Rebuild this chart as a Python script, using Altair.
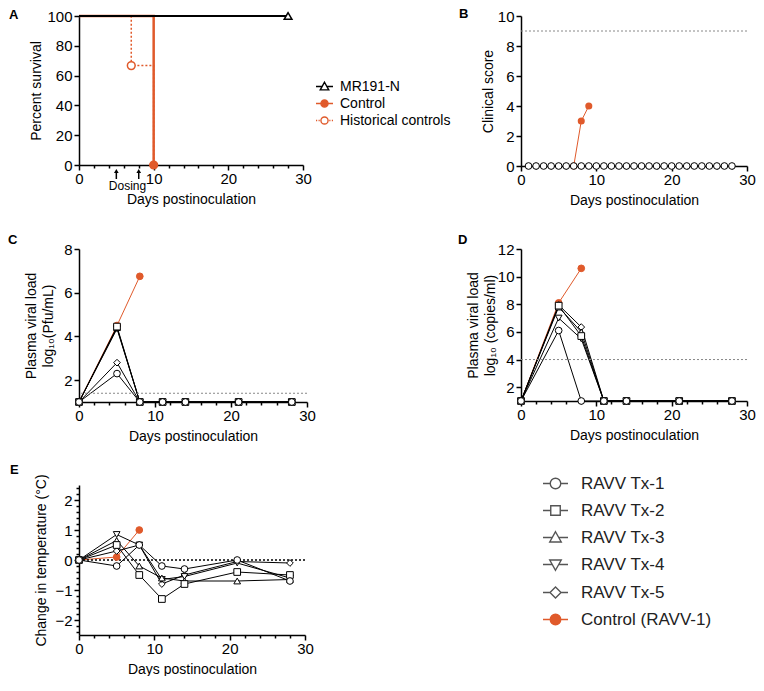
import altair as alt
import pandas as pd

ORANGE = "#E05A2B"
FONT = "Liberation Sans"

# ---------------- data ----------------
# Panel A: survival
a_series = ["MR191-N", "Control", "Historical controls"]
a_mr_days = [0, 28]
a_mr_pct = [100, 100]
a_ctrl_days = [0, 10]
a_ctrl_pct = [100, 0]
a_hist_days = [0, 7, 10]
a_hist_pct = [100, 66.7, 0]
a_mark_series = ["Historical controls", "MR191-N", "Control"]
a_mark_days = [7, 28, 10]
a_mark_pct = [66.7, 100, 0]
dosing_days = [5, 8]

# Panel B: clinical score
b_tx_days = [1, 2, 3, 4, 5, 6, 7, 8, 9, 10, 11, 12, 13, 14, 15, 16, 17, 18, 19, 20,
             21, 22, 23, 24, 25, 26, 27, 28]
b_tx_score = [0, 0, 0, 0, 0, 0, 0, 0, 0, 0, 0, 0, 0, 0, 0, 0, 0, 0, 0, 0,
              0, 0, 0, 0, 0, 0, 0, 0]
b_ctrl_days = [7, 8, 9]
b_ctrl_score = [0, 3, 4]
b_threshold = [9]

# Panels C-E: treated animals and control
tx_names = ["RAVV Tx-1", "RAVV Tx-2", "RAVV Tx-3", "RAVV Tx-4", "RAVV Tx-5"]
ctrl_name = "Control (RAVV-1)"
sample_days = [0, 5, 8, 11, 14, 21, 28]
ctrl_days = [0, 5, 8]

c_tx = {
    "RAVV Tx-1": [1, 2.3, 1, 1, 1, 1, 1],
    "RAVV Tx-2": [1, 4.45, 1, 1, 1, 1, 1],
    "RAVV Tx-3": [1, 4.4, 1, 1, 1, 1, 1],
    "RAVV Tx-4": [1, 4.35, 1, 1, 1, 1, 1],
    "RAVV Tx-5": [1, 2.8, 1, 1, 1, 1, 1],
}
c_ctrl = [1, 4.5, 6.75]
c_lod = [1.4]

d_tx = {
    "RAVV Tx-1": [1, 6.1, 1, 1, 1, 1, 1],
    "RAVV Tx-2": [1, 7.9, 5.7, 1, 1, 1, 1],
    "RAVV Tx-3": [1, 7.8, 6.0, 1, 1, 1, 1],
    "RAVV Tx-4": [1, 7.0, 5.5, 1, 1, 1, 1],
    "RAVV Tx-5": [1, 7.95, 6.35, 1, 1, 1, 1],
}
d_ctrl = [1, 8.1, 10.6]
d_lod = [4]

e_tx = {
    "RAVV Tx-1": [0, -0.2, 0.5, -0.2, -0.3, 0.0, -0.7],
    "RAVV Tx-2": [0, 0.5, -0.5, -1.3, -0.8, -0.4, -0.5],
    "RAVV Tx-3": [0, 0.65, -0.2, -0.6, -0.7, -0.7, -0.65],
    "RAVV Tx-4": [0, 0.85, 0.5, -0.65, -0.55, -0.1, -0.6],
    "RAVV Tx-5": [0, 0.3, 0.5, -0.8, -0.5, -0.05, -0.1],
}
e_ctrl = [0, 0.1, 1.0]
e_zero = [0]

# axis ticks
x_major = [0, 10, 20, 30]
x_minor = [2, 4, 6, 8, 12, 14, 16, 18, 22, 24, 26, 28]
a_y_ticks = [0, 20, 40, 60, 80, 100]
b_y_ticks = [0, 2, 4, 6, 8, 10]
c_y_ticks = [2, 4, 6, 8]
d_y_ticks = [2, 4, 6, 8, 10, 12]
e_y_ticks = [-2, -1, 0, 1, 2]
e_y_minor = [-2.4, -2.2, -1.8, -1.6, -1.4, -1.2, -0.8, -0.6, -0.4, -0.2,
             0.2, 0.4, 0.6, 0.8, 1.2, 1.4, 1.6, 1.8, 2.2, 2.4]

# ---------------- helpers ----------------
all_names = tx_names + [ctrl_name]
shape_range = ["circle", "square", "triangle-up", "triangle-down", "diamond", "circle"]
fill_range = ["white"] * 5 + [ORANGE]
stroke_range = ["black"] * 5 + [ORANGE]

XSCALE = alt.Scale(domain=[0, 30], nice=False, zero=False)


def x_enc(field="day:Q"):
    return alt.X(field, scale=XSCALE,
                 axis=alt.Axis(values=x_major, title="Days postinoculation", orient="bottom",
                               tickSize=5, labelPadding=1, titlePadding=6,
                               labelFlush=False, labelOverlap=False))


def y_enc(field, domain, ticks, title, tpad):
    return alt.Y(field, scale=alt.Scale(domain=domain, nice=False, zero=False),
                 axis=alt.Axis(values=ticks, title=title, orient="left", tickSize=5,
                               labelPadding=2, titlePadding=tpad, titleLineHeight=17,
                               labelOverlap=False, labelFlush=False))


def minor_layer(df, yfield, ydomain, y_minor=None):
    if y_minor:
        yax = alt.Axis(values=y_minor, labels=False, domain=False, tickSize=3,
                       title=None, orient="left")
    else:
        yax = None
    return alt.Chart(df).mark_point(opacity=0, size=1).encode(
        x=alt.X("day:Q", scale=XSCALE,
                axis=alt.Axis(values=x_minor, labels=False, domain=False, tickSize=3,
                              title=None, orient="bottom")),
        y=alt.Y(yfield, scale=alt.Scale(domain=ydomain, nice=False, zero=False), axis=yax),
    )


def letter_layer(letter, dx, dy):
    return alt.Chart(pd.DataFrame({"letter": [letter]})).mark_text(
        align="left", baseline="alphabetic", font=FONT, fontSize=13, fontWeight="bold",
        color="black").encode(text="letter:N", x=alt.value(dx), y=alt.value(dy))


def series_df(tx, ctrl_vals):
    rows = []
    for d, v in zip(ctrl_days, ctrl_vals):
        rows.append({"series": ctrl_name, "day": d, "v": v})
    for name in reversed(tx_names):
        for d, v in zip(sample_days, tx[name]):
            rows.append({"series": name, "day": d, "v": v})
    return pd.DataFrame(rows)


def series_layers(df, y):
    lines = alt.Chart(df).mark_line(strokeWidth=1).encode(
        x=x_enc(), y=y,
        stroke=alt.Stroke("series:N", scale=alt.Scale(domain=all_names, range=stroke_range),
                          legend=None),
        detail="series:N",
    )
    pts = alt.Chart(df).mark_point(filled=True, opacity=1, size=45, strokeWidth=1).encode(
        x=x_enc(), y=y,
        shape=alt.Shape("series:N", scale=alt.Scale(domain=all_names, range=shape_range),
                        legend=None),
        fill=alt.Fill("series:N", scale=alt.Scale(domain=all_names, range=fill_range),
                      legend=None),
        stroke=alt.Stroke("series:N", scale=alt.Scale(domain=all_names, range=stroke_range),
                          legend=None),
    )
    return lines, pts


def leg_path(marker, r, dotted=False):
    if dotted:
        line = "M-1,0H-0.86M-0.7,0H-0.56M0.56,0H0.7M0.86,0H1"
    else:
        line = f"M-1,0H-{r}M{r},0H1"
    return line + marker


def circ(r):
    return f"M{r},0A{r},{r} 0 1,1 -{r},0A{r},{r} 0 1,1 {r},0Z"


def legend_layer(names, paths, fills, strokes, legend):
    return alt.Chart(pd.DataFrame({"series": names})).mark_point(
        filled=False, opacity=1, strokeWidth=1.4).transform_filter("false").encode(
        shape=alt.Shape("series:N", scale=alt.Scale(domain=names, range=paths), legend=legend),
        fill=alt.Fill("series:N", scale=alt.Scale(domain=names, range=fills), legend=None),
        stroke=alt.Stroke("series:N", scale=alt.Scale(domain=names, range=strokes), legend=None),
    )


# ---------------- Panel A ----------------
H_A = 149
a_hist_df = pd.DataFrame({"day": a_hist_days, "pct": a_hist_pct})
a_ctrl_df = pd.DataFrame({"day": a_ctrl_days, "pct": a_ctrl_pct})
a_mr_df = pd.DataFrame({"day": a_mr_days, "pct": a_mr_pct})
a_pts_df = pd.DataFrame({"series": a_mark_series, "day": a_mark_days, "pct": a_mark_pct})
dose_df = pd.DataFrame({"day": dosing_days})

yA = y_enc("pct:Q", [0, 100], a_y_ticks, "Percent survival", 3)

a_fill = ["white", ORANGE, "white"]
a_stroke = ["black", ORANGE, ORANGE]
a_hist = alt.Chart(a_hist_df).mark_line(interpolate="step-after", color=ORANGE, strokeWidth=1.5,
                                        strokeDash=[2, 2]).encode(x=x_enc(), y=yA)
a_ctrl = alt.Chart(a_ctrl_df).mark_line(interpolate="step-after", color=ORANGE,
                                        strokeWidth=2.5).encode(x=x_enc(), y=yA)
a_mr = alt.Chart(a_mr_df).mark_line(color="black", strokeWidth=2).encode(x=x_enc(), y=yA)
a_pts = alt.Chart(a_pts_df).mark_point(filled=True, opacity=1, size=60, strokeWidth=1.5).encode(
    x=x_enc(), y=yA,
    shape=alt.Shape("series:N", scale=alt.Scale(domain=a_series,
                                                range=["triangle-up", "circle", "circle"]),
                    legend=None),
    fill=alt.Fill("series:N", scale=alt.Scale(domain=a_series, range=a_fill), legend=None),
    stroke=alt.Stroke("series:N", scale=alt.Scale(domain=a_series, range=a_stroke), legend=None),
)
a_leg_paths = [
    leg_path("M0,-0.5L0.5,0.4H-0.5Z", 0.28),
    leg_path(circ(0.42), 0.42),
    leg_path(circ(0.42), 0.42, dotted=True),
]
a_legend = legend_layer(
    a_series, a_leg_paths, a_fill, a_stroke,
    alt.Legend(title=None, orient="none", legendX=236, legendY=61, padding=0,
               symbolSize=289, labelFontSize=14, labelFont=FONT, labelColor="black",
               labelOffset=6, rowPadding=0, labelLimit=300, symbolStrokeWidth=1.4,
               symbolFillColor={"expr": "datum.value === 'Control' ? '" + ORANGE + "' : 'white'"},
               symbolStrokeColor={"expr": "datum.value === 'MR191-N' ? 'black' : '" + ORANGE + "'"}))
a_arrow = alt.Chart(dose_df).mark_rule(color="black", strokeWidth=1.5).encode(
    x=x_enc(), y=alt.value(H_A + 7), y2=alt.value(H_A + 14))
a_head = alt.Chart(dose_df).mark_point(shape="triangle-up", filled=True, color="black",
                                       opacity=1, size=22).encode(x=x_enc(), y=alt.value(H_A + 6))
a_dtext = alt.Chart(dose_df).mark_text(font=FONT, fontSize=12, color="black").encode(
    x=x_enc("mean(day):Q"), y=alt.value(H_A + 21), text=alt.value("Dosing"))

panelA = alt.layer(
    alt.layer(a_hist, a_ctrl, a_mr, a_pts, a_arrow, a_head, a_dtext, a_legend,
              letter_layer("A", -70, 3)).resolve_scale(shape="independent"),
    minor_layer(a_mr_df, "pct:Q", [0, 100]),
).resolve_axis(x="independent", y="independent").properties(width=224, height=H_A)

# ---------------- Panel B ----------------
b_tx_df = pd.DataFrame({"day": b_tx_days, "score": b_tx_score})
b_ctrl_df = pd.DataFrame({"day": b_ctrl_days, "score": b_ctrl_score})
b_thr_df = pd.DataFrame({"score": b_threshold})
yB = y_enc("score:Q", [0, 10], b_y_ticks, "Clinical score", 2)

b_cl = alt.Chart(b_ctrl_df).mark_line(color=ORANGE, strokeWidth=1).encode(x=x_enc(), y=yB)
b_thr = alt.Chart(b_thr_df).mark_rule(color="#888", strokeWidth=1, strokeDash=[2, 2]).encode(y=yB)
b_cp = alt.Chart(b_ctrl_df).mark_point(filled=True, color=ORANGE, opacity=1, size=50).encode(
    x=x_enc(), y=yB)
b_tp = alt.Chart(b_tx_df).mark_point(filled=True, fill="white", stroke="black", strokeWidth=1,
                                     opacity=1, size=45).encode(x=x_enc(), y=yB)
panelB = alt.layer(
    alt.layer(b_cl, b_thr, b_cp, b_tp, letter_layer("B", -62, 2)),
    minor_layer(b_tx_df, "score:Q", [0, 10]),
).resolve_axis(x="independent", y="independent").properties(width=226, height=150)

# ---------------- Panel C ----------------
c_df = series_df(c_tx, c_ctrl)
yC = y_enc("v:Q", [1, 8], c_y_ticks, ["Plasma viral load", "log\u2081\u2080(Pfu/mL)"], 8)
c_lod_df = pd.DataFrame({"v": c_lod})
c_lines, c_pts = series_layers(c_df, yC)
c_rule = alt.Chart(c_lod_df).mark_rule(color="#888", strokeWidth=1, strokeDash=[2, 2]).encode(y=yC)
panelC = alt.layer(
    alt.layer(c_lines, c_rule, c_pts, letter_layer("C", -71, -5)),
    minor_layer(c_df, "v:Q", [1, 8]),
).resolve_axis(x="independent", y="independent").properties(width=228, height=153)

# ---------------- Panel D ----------------
d_df = series_df(d_tx, d_ctrl)
yD = y_enc("v:Q", [1, 12], d_y_ticks, ["Plasma viral load", "log\u2081\u2080 (copies/ml)"], 0)
d_lod_df = pd.DataFrame({"v": d_lod})
d_lines, d_pts = series_layers(d_df, yD)
d_rule = alt.Chart(d_lod_df).mark_rule(color="#888", strokeWidth=1, strokeDash=[2, 2]).encode(y=yD)
panelD = alt.layer(
    alt.layer(d_lines, d_rule, d_pts, letter_layer("D", -63, -5)),
    minor_layer(d_df, "v:Q", [1, 12]),
).resolve_axis(x="independent", y="independent").properties(width=226, height=152)

# ---------------- Panel E ----------------
e_df = series_df(e_tx, e_ctrl)
yE = y_enc("v:Q", [-2.5, 2.5], e_y_ticks, "Change in temperature (\u00b0C)", 6)
e_zero_df = pd.DataFrame({"v": e_zero})
e_lines, e_pts = series_layers(e_df, yE)
e_rule = alt.Chart(e_zero_df).mark_rule(color="black", strokeWidth=1.5, strokeDash=[2, 2]).encode(y=yE)
r = 0.42
e_leg_paths = [
    leg_path(circ(r), r),
    leg_path("M-0.38,-0.38H0.38V0.38H-0.38Z", 0.38),
    leg_path("M0,-0.46L0.46,0.36H-0.46Z", 0.26),
    leg_path("M0,0.46L0.46,-0.36H-0.46Z", 0.26),
    leg_path("M0,-0.44L0.44,0L0,0.44L-0.44,0Z", 0.44),
    leg_path(circ(r), r),
]
e_legend = legend_layer(
    all_names, e_leg_paths, fill_range, stroke_range,
    alt.Legend(title=None, orient="none", legendX=463, legendY=-15, padding=0,
               symbolSize=625, labelFontSize=17, labelFont=FONT, labelColor="#222",
               labelOffset=12, rowPadding=5, labelLimit=400, symbolStrokeWidth=1.4,
               symbolFillColor={"expr": "datum.value === '" + ctrl_name + "' ? '" + ORANGE + "' : 'white'"},
               symbolStrokeColor={"expr": "datum.value === '" + ctrl_name + "' ? '" + ORANGE + "' : '#555'"}))
panelE = alt.layer(
    alt.layer(e_lines, e_rule, e_pts, e_legend, letter_layer("E", -69, -11)).resolve_scale(
        shape="independent"),
    minor_layer(e_df, "v:Q", [-2.5, 2.5], e_y_minor),
).resolve_axis(x="independent", y="independent").properties(width=226, height=150)

IND = dict(shape="independent", fill="independent", stroke="independent")
chart = alt.concat(
    panelA, panelB, panelC, panelD, panelE,
    columns=2, spacing={"row": 83, "column": 214}, bounds="flush",
).resolve_scale(**IND).properties(
    padding={"left": 0, "top": 0, "right": 0, "bottom": 0}
).configure_axis(
    labelFont=FONT, titleFont=FONT, labelFontSize=15, titleFontSize=14,
    titleFontWeight="normal", labelColor="black", titleColor="black",
    domainColor="black", tickColor="black", domainWidth=1.5, tickWidth=1.5, grid=False,
).configure_view(strokeWidth=0).configure_legend(labelFont=FONT)

chart.save("out.html", embed_options={"renderer": "svg", "actions": False})
